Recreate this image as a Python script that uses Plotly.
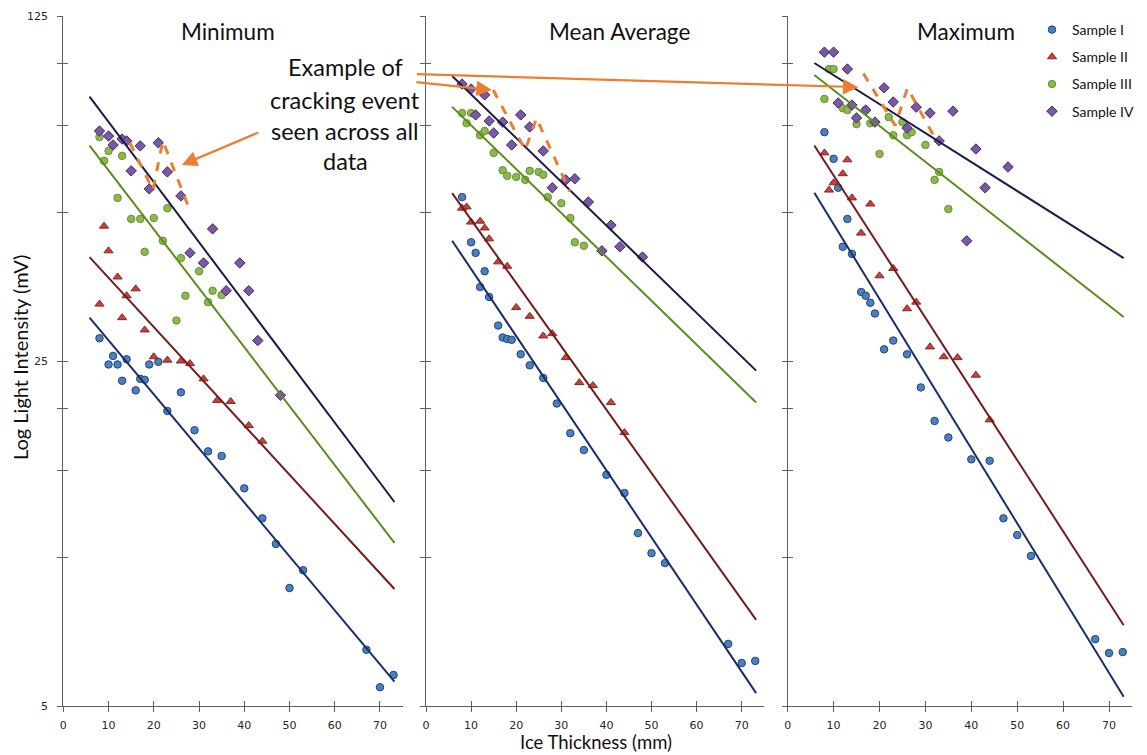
import math
import plotly.graph_objects as go

W, H = 1147, 755

# Ice thickness (mm) at which each sample was measured
THICK_I = [8, 10, 11, 12, 13, 14, 16, 17, 18, 19, 21, 23, 26, 29, 32, 35, 40, 44, 47, 50, 53, 67, 70, 73]
THICK_II = [8, 9, 10, 12, 13, 14, 16, 18, 20, 23, 26, 28, 31, 34, 37, 41, 44]
THICK_III = [8, 9, 10, 12, 13, 15, 17, 18, 20, 22, 23, 25, 26, 27, 30, 32, 33, 35]
THICK_IV = [8, 10, 11, 13, 14, 15, 17, 19, 21, 23, 26, 28, 31, 33, 36, 39, 41, 43, 48]

# Light intensity (mV) - minimum readings
MIN_I = [27.8, 24.6, 25.6, 24.6, 22.8, 25.2, 21.8, 23.0, 22.9, 24.6, 24.9, 19.8, 21.6, 18.1, 16.4, 16.05,
         13.8, 12.0, 10.65, 8.67, 9.42, 6.50, 5.46, 5.78]
MIN_II = [32.6, 46.9, 41.8, 37.0, 30.6, 33.9, 35.0, 28.9, 25.5, 25.1, 25.0, 24.7, 23.0, 20.8, 20.7, 18.5, 17.2]
MIN_III = [71.1, 63.6, 66.6, 53.5, 65.1, 48.5, 48.5, 41.6, 48.7, 43.8, 51.0, 30.2, 40.4, 33.9, 38.0, 32.9,
           34.7, 34.0]
MIN_IV = [73.1, 71.4, 68.5, 70.4, 69.8, 60.7, 68.2, 55.8, 69.2, 60.4, 54.0, 41.4, 39.5, 46.3, 34.7, 39.5,
          34.7, 27.5, 21.3]

# Light intensity (mV) - mean average readings
MEAN_I = [53.7, 43.5, 41.4, 35.3, 38.0, 33.7, 29.5, 27.9, 27.7, 27.6, 25.8, 24.5, 23.1, 20.5, 17.85, 16.5,
          14.7, 13.5, 11.2, 10.2, 9.74, 6.68, 6.11, 6.17]
MEAN_II = [51.0, 51.3, 47.8, 48.0, 46.5, 44.2, 39.7, 38.9, 32.1, 30.8, 28.1, 28.4, 25.4, 22.6, 22.3, 20.6, 17.9]
MEAN_III = [79.5, 75.8, 79.5, 71.7, 73.1, 66.0, 60.9, 59.3, 59.0, 58.2, 60.7, 60.4, 59.6, 53.7, 52.2, 48.7,
            43.5, 42.8]
MEAN_IV = [91.0, 88.9, 78.8, 86.5, 76.6, 72.4, 76.2, 68.5, 78.8, 74.5, 66.6, 56.1, 58.2, 58.5, 52.5, 41.8,
           47.1, 42.6, 40.6]

# Light intensity (mV) - maximum readings
MAX_I = [72.7, 64.2, 56.1, 42.6, 48.5, 41.2, 34.5, 33.9, 32.8, 31.2, 26.4, 27.5, 25.8, 22.1, 18.9, 17.5,
         15.8, 15.7, 12.0, 11.1, 10.07, 6.83, 6.40, 6.43]
MAX_II = [66.0, 55.5, 57.4, 59.9, 63.9, 53.5, 45.4, 52.0, 37.2, 38.5, 31.9, 32.9, 26.7, 25.5, 25.4, 23.4, 19.0]
MAX_III = [84.9, 97.6, 97.6, 81.3, 80.6, 75.5, 80.6, 75.8, 65.7, 78.0, 71.7, 76.2, 71.7, 72.7, 68.5, 58.2,
           60.4, 50.8]
MAX_IV = [105.6, 105.6, 83.3, 97.6, 82.5, 77.7, 80.6, 76.2, 89.4, 83.7, 74.1, 81.7, 79.5, 69.8, 80.2, 43.8,
          67.2, 56.1, 61.8]

# Exponential trendlines: value at start and end thickness
TREND_X = [5.8, 73.2]
TREND_MIN = [[30.6, 5.60], [40.6, 8.63], [68.3, 10.7], [85.8, 12.95]]
TREND_MEAN = [[43.8, 5.31], [54.7, 7.47], [81.8, 20.6], [94.5, 23.9]]
TREND_MAX = [[54.8, 5.22], [68.3, 7.29], [94.9, 30.7], [100.4, 40.4]]

# Cracking event outlines (thickness, mV)
CRACK_MIN_X = [14.7, 19.8, 22.0, 27.5]
CRACK_MIN_Y = [69.2, 55.5, 69.8, 51.8]
CRACK_MEAN_X = [14.9, 22.0, 24.5, 31.9]
CRACK_MEAN_Y = [88.5, 66.9, 77.6, 55.1]
CRACK_MAX_X = [16.5, 23.4, 26.1, 32.3]
CRACK_MAX_Y = [95.6, 75.0, 89.3, 70.1]

PANEL_TITLES = ["Minimum", "Mean Average", "Maximum"]
SERIES_NAMES = ["Sample I", "Sample II", "Sample III", "Sample IV"]
X_TICKS = [0, 10, 20, 30, 40, 50, 60, 70]
Y_TICKS = [5, 10, 15, 20, 25, 50, 75, 100, 125]
Y_TICK_TEXT = ["5", "", "", "", "25", "", "", "", "125"]

THICKS = [THICK_I, THICK_II, THICK_III, THICK_IV]
PANEL_DATA = [
    [MIN_I, MIN_II, MIN_III, MIN_IV],
    [MEAN_I, MEAN_II, MEAN_III, MEAN_IV],
    [MAX_I, MAX_II, MAX_III, MAX_IV],
]
PANEL_TRENDS = [TREND_MIN, TREND_MEAN, TREND_MAX]
PANEL_CRACKS = [(CRACK_MIN_X, CRACK_MIN_Y), (CRACK_MEAN_X, CRACK_MEAN_Y), (CRACK_MAX_X, CRACK_MAX_Y)]

MARKERS = [
    dict(symbol="circle", size=7.5, color="#4A7FC4", line=dict(color="#23466F", width=1)),
    dict(symbol="triangle-up", size=8, color="#C9413C", line=dict(color="#7E2A27", width=1)),
    dict(symbol="circle", size=7.5, color="#8DB84A", line=dict(color="#6A8F35", width=1)),
    dict(symbol="diamond", size=8, color="#7A58A6", line=dict(color="#3E2C5C", width=1)),
]
TREND_COLORS = ["#182E6B", "#741C1C", "#5A8C1E", "#1E1A48"]
ORANGE = "#ED7D31"
AXIS_COLOR = "#5f5f5f"
FONT = "Lato"

# Panel placement in pixels: left edge of x = 0 and pixels per mm
PANEL_LEFT = [63.3, 426.0, 787.7]
PANEL_SCALE = [4.524, 4.51, 4.59]
X_MAX = 75
PLOT_TOP, PLOT_BOTTOM = 16, 706


def px_x(p):
    return p / W


def px_y(p):
    return 1 - p / H


fig = go.Figure()
layout = {}

for k in range(3):
    n = k + 1
    xa, ya = f"x{n}", f"y{n}"
    xo, yo = f"x{n + 3}", f"y{n + 3}"
    left = PANEL_LEFT[k]
    right = left + X_MAX * PANEL_SCALE[k]
    xdom = [px_x(left), px_x(right)]
    ydom = [px_y(PLOT_BOTTOM), px_y(PLOT_TOP)]

    common_x = dict(domain=xdom, range=[0, X_MAX], tickvals=X_TICKS, showgrid=False,
                    zeroline=False, tickcolor=AXIS_COLOR, tickwidth=1.3, ticklen=5,
                    automargin=False)
    common_y = dict(domain=ydom, type="log", range=[math.log10(5), math.log10(125)],
                    tickvals=Y_TICKS, showgrid=False, zeroline=False,
                    tickcolor=AXIS_COLOR, tickwidth=1.3, ticklen=5, automargin=False)

    layout[f"xaxis{n}"] = dict(common_x, anchor=ya, ticks="outside", showline=True,
                               linecolor=AXIS_COLOR, linewidth=1.3,
                               tickfont=dict(family="DejaVu Sans", size=11, color="#262626"),
                               ticklabelstandoff=4)
    layout[f"yaxis{n}"] = dict(common_y, anchor=xa, ticks="outside", showline=True,
                               linecolor=AXIS_COLOR, linewidth=1.3,
                               ticktext=Y_TICK_TEXT, showticklabels=(k == 0),
                               tickfont=dict(family="DejaVu Sans", size=11, color="#262626"),
                               ticklabelstandoff=7)
    # inner half of the crossing tick marks
    layout[f"xaxis{n + 3}"] = dict(common_x, anchor=yo, overlaying=xa, ticks="inside",
                                   showticklabels=False, showline=False)
    layout[f"yaxis{n + 3}"] = dict(common_y, anchor=xo, overlaying=ya, ticks="inside",
                                   showticklabels=False, showline=False)
    fig.add_trace(go.Scatter(x=[], y=[], xaxis=xo, yaxis=yo, showlegend=False,
                             hoverinfo="skip"))

    # sample markers
    for s in range(4):
        fig.add_trace(go.Scatter(
            x=THICKS[s], y=PANEL_DATA[k][s], mode="markers", name=SERIES_NAMES[s],
            marker=MARKERS[s], xaxis=xa, yaxis=ya, legendgroup=SERIES_NAMES[s],
            showlegend=(k == 0)))
    # exponential trendlines
    for s in range(4):
        fig.add_trace(go.Scatter(
            x=TREND_X, y=PANEL_TRENDS[k][s], mode="lines",
            line=dict(color=TREND_COLORS[s], width=2), xaxis=xa, yaxis=ya,
            showlegend=False, hoverinfo="skip"))
    # cracking event outline
    cx, cy = PANEL_CRACKS[k]
    fig.add_trace(go.Scatter(
        x=cx, y=cy, mode="lines", line=dict(color=ORANGE, width=3, dash="dash"),
        xaxis=xa, yaxis=ya, showlegend=False, hoverinfo="skip"))


def label(text, cx, cy, size, **extra):
    return dict(text=text, x=px_x(cx), y=px_y(cy), xref="paper", yref="paper",
                xanchor="center", yanchor="middle", showarrow=False,
                font=dict(family=FONT, size=size, color="#111111"), **extra)


annotations = []
title_centers = [228, 619, 966]
for k, t in enumerate(PANEL_TITLES):
    annotations.append(label(t, title_centers[k], 32, 22.5))

note_lines = ["Example of", "cracking event", "seen across all", "data"]
note_y = [67, 100, 131, 161]
for line, yy in zip(note_lines, note_y):
    annotations.append(label(line, 345, yy, 23.5))

# arrows pointing at the cracking events
arrow_style = dict(showarrow=True, text="", arrowhead=2, arrowsize=1.4, arrowwidth=2.2,
                   arrowcolor=ORANGE, axref="pixel", ayref="pixel")
annotations.append(dict(arrow_style, x=26.2, y=math.log10(62.4), xref="x1", yref="y1", ax=78, ay=-33))
annotations.append(dict(arrow_style, x=14.6, y=math.log10(88.5), xref="x2", yref="y2", ax=-77, ay=-8))
annotations.append(dict(arrow_style, x=15.4, y=math.log10(89.7), xref="x3", yref="y3", ax=-443, ay=-13))

annotations.append(label("Ice Thickness (mm)", 596, 742, 18.5))
annotations.append(label("Log Light Intensity (mV)", 20, 358, 20, textangle=-90))

fig.update_layout(
    width=W, height=H, margin=dict(l=0, r=0, t=0, b=0, autoexpand=False),
    paper_bgcolor="white", plot_bgcolor="white",
    annotations=annotations,
    legend=dict(x=px_x(1032), y=px_y(14), xanchor="left", yanchor="top",
                font=dict(family=FONT, size=14, color="#111111"), bgcolor="rgba(0,0,0,0)",
                tracegroupgap=6, itemwidth=30),
    showlegend=True,
    **layout,
)

fig.write_html("out.html")
